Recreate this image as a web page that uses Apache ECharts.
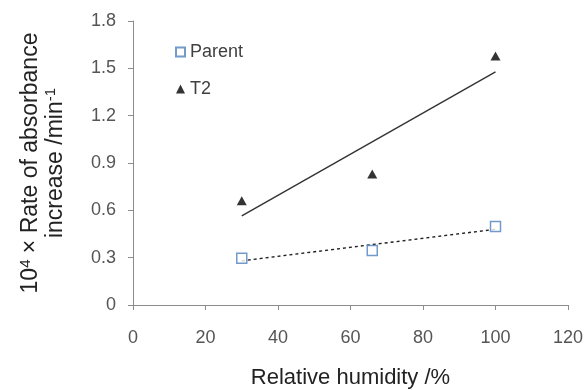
<!DOCTYPE html>
<html>
<head>
<meta charset="utf-8">
<script src="https://cdn.jsdelivr.net/npm/echarts@6/dist/echarts.min.js"></script>
<style>html,body{margin:0;padding:0;background:#fff}#c{width:588px;height:390px}</style>
</head>
<body>
<div id="c"></div>
<script>
// Data
const humidity = [30, 66, 100];
const parentRate = [0.296, 0.346, 0.498];
const t2Rate = [0.66, 0.83, 1.578];
// Trend line endpoints (as drawn in the reference)
const trendX = [30, 100];
const parentTrend = [0.28, 0.48];
const t2Trend = [0.565, 1.477];
const xTicks = [0, 20, 40, 60, 80, 100, 120];
const yTicks = [0, 0.3, 0.6, 0.9, 1.2, 1.5, 1.8];

const pairs = (xs, ys) => xs.map((x, i) => [x, ys[i]]);
const font = '"Liberation Sans", Arial, sans-serif';

const chart = echarts.init(document.getElementById('c'));
chart.setOption({
  animation: false,
  backgroundColor: '#fff',
  grid: { left: 133, right: 20, top: 21, bottom: 85, containLabel: false, outerBoundsMode: 'none' },
  legend: {
    orient: 'vertical', left: 170, top: 38,
    itemWidth: 9, itemHeight: 9, itemGap: 19,
    data: ['Parent', 'T2'],
    textStyle: { fontFamily: font, fontSize: 18, color: '#404040', lineHeight: 18 }
  },
  xAxis: {
    type: 'value', min: xTicks[0], max: xTicks[xTicks.length - 1], interval: xTicks[1] - xTicks[0],
    name: 'Relative humidity /%', nameLocation: 'middle', nameGap: 62,
    nameTextStyle: { fontFamily: font, fontSize: 22, color: '#222' },
    axisLine: { lineStyle: { color: '#8c8c8c', width: 1 } },
    axisTick: { show: true, length: 5, lineStyle: { color: '#8c8c8c' } },
    axisLabel: { fontFamily: font, fontSize: 18, color: '#555', margin: 24 },
    splitLine: { show: false }
  },
  yAxis: {
    type: 'value', min: yTicks[0], max: yTicks[yTicks.length - 1], interval: yTicks[1] - yTicks[0],
    name: '{a|10}{s|4}{a| × Rate of absorbance}\n{a|increase /min}{s|-1}',
    nameLocation: 'middle', nameGap: 65, nameRotate: 90,
    nameTextStyle: {
      fontFamily: font, fontSize: 23, color: '#222', lineHeight: 25,
      rich: {
        a: { fontFamily: font, fontSize: 23, color: '#222', lineHeight: 25 },
        s: { fontFamily: font, fontSize: 15, color: '#222', verticalAlign: 'top', lineHeight: 25, padding: [0, 0, 10, 0] }
      }
    },
    axisLine: { show: true, lineStyle: { color: '#8c8c8c', width: 1 } },
    axisTick: { show: true, length: 5, lineStyle: { color: '#8c8c8c' } },
    axisLabel: { fontFamily: font, fontSize: 18, color: '#555', margin: 17,
      formatter: v => String(Math.round(v * 10) / 10) },
    splitLine: { show: false }
  },
  series: [
    {
      name: 'Parent-trend', type: 'line', data: pairs(trendX, parentTrend),
      symbol: 'none', lineStyle: { color: '#222', width: 1.4, type: [3, 3] }, z: 1, silent: true
    },
    {
      name: 'T2-trend', type: 'line', data: pairs(trendX, t2Trend),
      symbol: 'none', lineStyle: { color: '#333', width: 1.4 }, z: 1, silent: true
    },
    {
      name: 'Parent', type: 'scatter', data: pairs(humidity, parentRate),
      symbol: 'rect', symbolSize: 10,
      itemStyle: { color: '#fff', borderColor: '#4F81BD', borderWidth: 1.5 }, z: 3
    },
    {
      name: 'T2', type: 'scatter', data: pairs(humidity, t2Rate),
      symbol: 'triangle', symbolSize: [10, 9],
      itemStyle: { color: '#000' }, z: 3
    }
  ]
});
</script>
</body>
</html>
